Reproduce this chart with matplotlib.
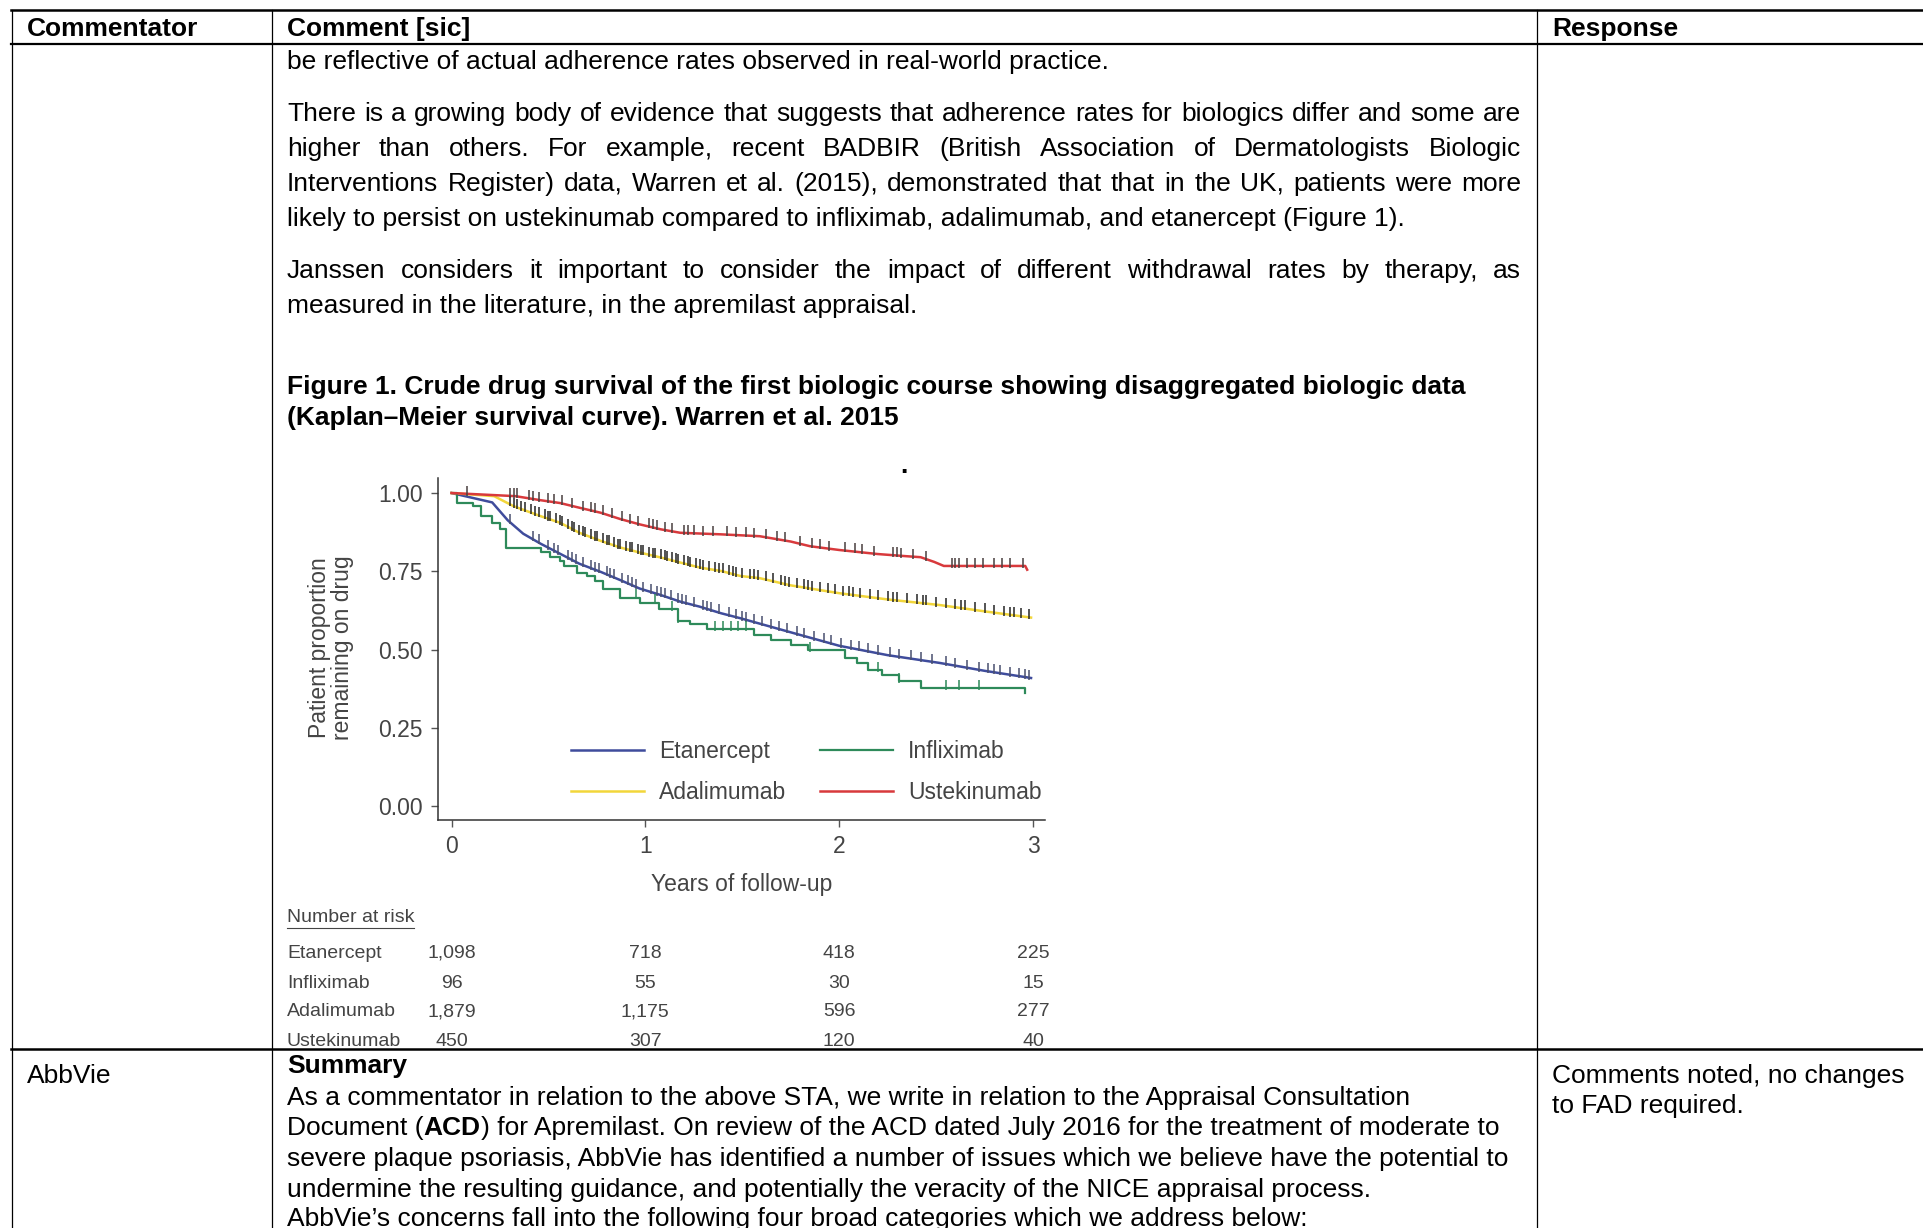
import numpy as np
import matplotlib.pyplot as plt
import matplotlib.transforms as mtransforms
from matplotlib.lines import Line2D

W, H = 1924, 1228

# Kaplan-Meier curves (years, proportion on drug)
eta_t = [0, 0.21, 0.29, 0.37, 0.46, 0.56, 0.66, 0.77, 0.87, 0.97, 1.08, 1.18, 1.28, 1.39,
         1.49, 1.75, 2.0, 2.25, 2.52, 2.75, 2.99]
eta_s = [1.0, 0.97, 0.913, 0.87, 0.838, 0.806, 0.774, 0.748, 0.722, 0.695, 0.674, 0.653,
         0.637, 0.616, 0.60, 0.555, 0.512, 0.482, 0.457, 0.432, 0.409]

inf_t = [0, 0.03, 0.11, 0.15, 0.21, 0.25, 0.28, 0.46, 0.51, 0.56, 0.58, 0.65, 0.70, 0.74,
         0.78, 0.87, 0.97, 1.07, 1.17, 1.23, 1.32, 1.56, 1.65, 1.75, 1.84, 2.03, 2.09, 2.15,
         2.22, 2.31, 2.42, 2.96, 2.96]
inf_s = [1.0, 0.968, 0.958, 0.926, 0.905, 0.884, 0.825, 0.81, 0.794, 0.783, 0.767, 0.746,
         0.735, 0.719, 0.693, 0.666, 0.65, 0.629, 0.592, 0.581, 0.565, 0.546, 0.53, 0.514,
         0.498, 0.472, 0.456, 0.435, 0.419, 0.398, 0.376, 0.376, 0.36]

ada_t = [0, 0.22, 0.32, 0.46, 0.56, 0.66, 0.77, 0.87, 0.97, 1.08, 1.18, 1.28, 1.39, 1.49,
         1.59, 1.75, 2.0, 2.25, 2.52, 2.75, 2.99]
ada_s = [1.0, 0.99, 0.958, 0.926, 0.905, 0.873, 0.847, 0.826, 0.81, 0.794, 0.778, 0.762,
         0.751, 0.735, 0.728, 0.705, 0.68, 0.66, 0.642, 0.622, 0.602]

ust_t = [0, 0.33, 0.46, 0.56, 0.66, 0.77, 0.87, 0.97, 1.08, 1.18, 1.39, 1.59, 1.75, 1.85,
         2.0, 2.2, 2.35, 2.42, 2.49, 2.54, 2.96, 2.97]
ust_s = [1.0, 0.99, 0.977, 0.968, 0.953, 0.937, 0.917, 0.90, 0.884, 0.873, 0.868, 0.862,
         0.845, 0.83, 0.818, 0.805, 0.798, 0.795, 0.78, 0.767, 0.767, 0.755]

# censoring ticks (years)
eta_cens = [0.3, 0.42, 0.45, 0.5, 0.53, 0.55, 0.6, 0.62, 0.64, 0.68, 0.72, 0.74, 0.76, 0.8,
            0.82, 0.84, 0.88, 0.91, 0.93, 0.95, 0.99, 1.03, 1.06, 1.08, 1.1, 1.13, 1.17,
            1.19, 1.21, 1.25, 1.3, 1.32, 1.34, 1.38, 1.43, 1.47, 1.5, 1.52, 1.56, 1.6, 1.65,
            1.69, 1.73, 1.78, 1.82, 1.87, 1.92, 1.96, 2.01, 2.06, 2.1, 2.15, 2.2, 2.26, 2.31,
            2.37, 2.42, 2.48, 2.55, 2.6, 2.66, 2.72, 2.77, 2.8, 2.83, 2.88, 2.93, 2.96, 2.98]
inf_cens = [0.95, 1.05, 1.14, 1.17, 1.36, 1.4, 1.44, 1.48, 1.52, 1.85, 2.2, 2.31, 2.55, 2.62, 2.72]
ada_cens = [0.3, 0.32, 0.34, 0.36, 0.38, 0.41, 0.43, 0.45, 0.48, 0.5, 0.51, 0.54, 0.56,
            0.57, 0.6, 0.62, 0.63, 0.66, 0.68, 0.69, 0.72, 0.74, 0.75, 0.78, 0.8, 0.81, 0.84,
            0.86, 0.87, 0.9, 0.92, 0.93, 0.96, 0.98, 0.99, 1.02, 1.04, 1.05, 1.08, 1.1, 1.11,
            1.14, 1.16, 1.17, 1.2, 1.22, 1.23, 1.26, 1.28, 1.3, 1.33, 1.36, 1.38, 1.4, 1.43,
            1.45, 1.47, 1.5, 1.54, 1.56, 1.58, 1.62, 1.66, 1.7, 1.72, 1.74, 1.78, 1.82, 1.84,
            1.86, 1.9, 1.94, 1.98, 2.02, 2.05, 2.07, 2.11, 2.16, 2.2, 2.25, 2.28, 2.3, 2.35,
            2.4, 2.43, 2.45, 2.5, 2.55, 2.6, 2.63, 2.65, 2.7, 2.75, 2.8, 2.85, 2.88, 2.9, 2.94, 2.98]
ust_cens = [0.08, 0.3, 0.32, 0.34, 0.4, 0.42, 0.45, 0.5, 0.53, 0.57, 0.62, 0.68, 0.72, 0.74,
            0.78, 0.83, 0.88, 0.92, 0.96, 1.02, 1.04, 1.06, 1.1, 1.14, 1.2, 1.22, 1.25, 1.3,
            1.35, 1.42, 1.47, 1.52, 1.56, 1.62, 1.68, 1.72, 1.8, 1.86, 1.9, 1.95, 2.03, 2.08,
            2.12, 2.18, 2.28, 2.3, 2.32, 2.38, 2.45, 2.58, 2.6, 2.62, 2.66, 2.7, 2.74, 2.8,
            2.84, 2.88, 2.95]

risk_times = [0, 1, 2, 3]
risk_rows = ['Etanercept', 'Infliximab', 'Adalimumab', 'Ustekinumab']
risk_vals = [['1,098', '718', '418', '225'],
             ['96', '55', '30', '15'],
             ['1,879', '1,175', '596', '277'],
             ['450', '307', '120', '40']]

plt.rcParams['font.family'] = ['Liberation Sans', 'DejaVu Sans']

fig = plt.figure(figsize=(W / 100, H / 100), dpi=100)
px = mtransforms.Affine2D().scale(1 / W, -1 / H).translate(0, 1) + fig.transFigure
r = fig.canvas.get_renderer()

BODY = 19
GREY = '#444444'


def txt(x, y, s, **kw):
    kw.setdefault('fontsize', BODY)
    kw.setdefault('va', 'baseline')
    return fig.text(x, y, s, transform=px, **kw)


def justified(x0, x1, y, line, **kw):
    words = line.split()
    arts = [txt(0, y, w, **kw) for w in words]
    widths = [a.get_window_extent(r).width for a in arts]
    gap = (x1 - x0 - sum(widths)) / (len(words) - 1)
    x = x0
    for a, w in zip(arts, widths):
        a.set_position((x, y))
        x += w + gap


def segments(x, y, parts):
    for s, weight in parts:
        a = txt(x, y, s, fontweight=weight)
        x += a.get_window_extent(r).width


def hline(y, x0, x1, lw, color='black'):
    fig.add_artist(Line2D([x0, x1], [y, y], transform=px, color=color, lw=lw))


def vline(x, y0, y1, lw):
    fig.add_artist(Line2D([x, x], [y0, y1], transform=px, color='black', lw=lw))


# table grid
hline(10, 11, W, 1.8)
hline(44, 11, W, 1.6)
hline(1049, 11, W, 1.8)
for xv in [12, 272, 1537]:
    vline(xv, 10, H, 0.9)

# header
txt(27, 36, 'Commentator', fontweight='bold')
txt(287, 36, 'Comment [sic]', fontweight='bold')
txt(1552, 36, 'Response', fontweight='bold')

L, R = 287, 1521
txt(L, 69, 'be reflective of actual adherence rates observed in real-world practice.')
justified(L, R, 121, 'There is a growing body of evidence that suggests that adherence rates for biologics differ and some are')
justified(L, R, 156, 'higher than others. For example, recent BADBIR (British Association of Dermatologists Biologic')
justified(L, R, 191, 'Interventions Register) data, Warren et al. (2015), demonstrated that that in the UK, patients were more')
txt(L, 226, 'likely to persist on ustekinumab compared to infliximab, adalimumab, and etanercept (Figure 1).')
justified(L, R, 278, 'Janssen considers it important to consider the impact of different withdrawal rates by therapy, as')
txt(L, 313, 'measured in the literature, in the apremilast appraisal.')

txt(L, 394, 'Figure 1. Crude drug survival of the first biologic course showing disaggregated biologic data',
    fontweight='bold')
txt(L, 425, '(Kaplan\u2013Meier survival curve). Warren et al. 2015', fontweight='bold')
txt(904, 473, '.', fontweight='bold', ha='center')

# AbbVie row
txt(27, 1083, 'AbbVie')
txt(L, 1073, 'Summary', fontweight='bold')
txt(L, 1105, 'As a commentator in relation to the above STA, we write in relation to the Appraisal Consultation')
segments(L, 1135, [('Document (', 'normal'), ('ACD', 'bold'),
                   (') for Apremilast. On review of the ACD dated July 2016 for the treatment of moderate to', 'normal')])
txt(L, 1166, 'severe plaque psoriasis, AbbVie has identified a number of issues which we believe have the potential to')
txt(L, 1197, 'undermine the resulting guidance, and potentially the veracity of the NICE appraisal process.')
txt(L, 1226, 'AbbVie\u2019s concerns fall into the following four broad categories which we address below:')
txt(1552, 1083, 'Comments noted, no changes')
txt(1552, 1113, 'to FAD required.')

# survival chart
CF = 16.5
ax = fig.add_axes([438 / W, 1 - 820 / H, (1045 - 438) / W, (820 - 478) / H])
ax.set_xlim(-0.0697, 3.062)
ax.set_ylim(-0.0447, 1.048)
for s in ['top', 'right']:
    ax.spines[s].set_visible(False)
for s in ['left', 'bottom']:
    ax.spines[s].set_color('#333333')
    ax.spines[s].set_linewidth(1.1)
ax.set_xticks([0, 1, 2, 3])
ax.set_yticks([0, 0.25, 0.5, 0.75, 1.0])
ax.set_yticklabels(['0.00', '0.25', '0.50', '0.75', '1.00'])
ax.tick_params(colors='#555555', labelcolor=GREY, labelsize=CF, length=5, width=1.0, pad=6)

series = [
    ('Etanercept', eta_t, eta_s, eta_cens, '#3f4c9c', '#4a5070', False),
    ('Adalimumab', ada_t, ada_s, ada_cens, '#f2d63a', '#262626', False),
    ('Infliximab', inf_t, inf_s, inf_cens, '#2e8a5a', '#2e8a5a', True),
    ('Ustekinumab', ust_t, ust_s, ust_cens, '#d8393c', '#4a4040', False),
]
for name, t, s, cens, col, ccol, step in series:
    t = np.array(t)
    s = np.array(s)
    if step:
        ax.plot(t, s, color=col, lw=1.6, drawstyle='steps-post', label=name, zorder=3)
        cy = s[np.searchsorted(t, cens, side='right') - 1]
    else:
        ax.plot(t, s, color=col, lw=1.8, label=name, zorder=3)
        cy = np.interp(cens, t, s)
    ax.plot(cens, cy + 0.01, ls='none', marker='|', ms=7.5, mew=1.3, color=ccol, alpha=0.85, zorder=4)

ax.legend(ncol=2, frameon=False, fontsize=CF, loc='upper left',
          bbox_to_anchor=((571 - 438) / (1045 - 438), (820 - 740) / (820 - 478)),
          borderpad=0, borderaxespad=0, handlelength=3.2, handletextpad=0.65,
          columnspacing=1.45, labelspacing=0.78, labelcolor=GREY)

fig.text(331 / W, 1 - 648 / H, 'Patient proportion\nremaining on drug', rotation=90,
         ha='center', va='center', fontsize=CF, color=GREY, linespacing=1.0)
txt(742, 885, 'Years of follow-up', fontsize=CF, color=GREY, ha='center', va='center')

# number at risk
ul = txt(287, 918, 'Number at risk', fontsize=14, color=GREY, va='center')
hline(928, 287, 287 + ul.get_window_extent(r).width, 0.8, GREY)
blend = mtransforms.blended_transform_factory(ax.transData, px)
row_y = [953, 983, 1012, 1041]
for name, vals, yy in zip(risk_rows, risk_vals, row_y):
    txt(287, yy, name, fontsize=14, color=GREY, va='center')
    for tt, v in zip(risk_times, vals):
        fig.text(tt, yy, v, transform=blend, fontsize=14, color=GREY, ha='center', va='center')

fig.savefig('out.png', dpi=100, facecolor='white')
